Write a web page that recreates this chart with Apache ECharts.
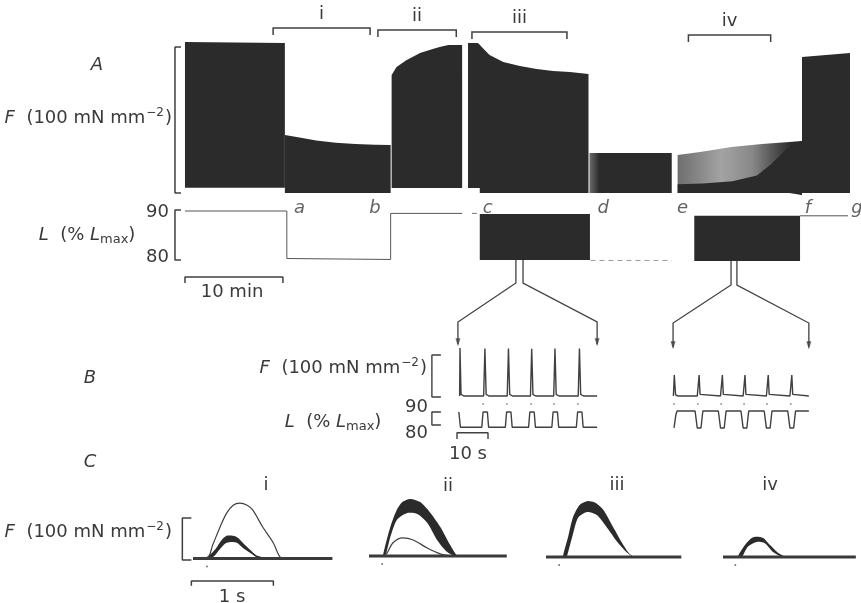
<!DOCTYPE html>
<html>
<head>
<meta charset="utf-8">
<script src="https://cdn.jsdelivr.net/npm/echarts@6/dist/echarts.min.js"></script>
<style>
  html, body { margin: 0; padding: 0; background: #fff; }
  #chart { width: 861px; height: 603px; }
</style>
</head>
<body>
<div id="chart"></div>
<script>
// ---- Panel A: force envelopes, [time (min), peak F, baseline F] (100 mN mm-2 = 100)
const forceCtrl = [[0.1, 103.4, 3.6], [10.3, 102.7, 3.6]];
const forceI = [[10.3, 39.7, 0], [11.5, 38.4, 0], [13.5, 36.0, 0], [15.5, 34.5, 0], [17.5, 33.5, 0], [19.5, 33.0, 0], [21.1, 32.9, 0]];
const forceII = [[21.2, 80.8, 3.4], [21.7, 86.3, 3.4], [22.7, 91.0, 3.4], [24.1, 95.9, 3.4], [25.4, 98.6, 3.4], [26.1, 100.0, 3.4], [27.0, 101.4, 3.4], [28.4, 101.4, 3.4]];
const forceIII = [[29.0, 102.7, 3.4], [30.0, 102.7, 3.4], [30.2, 101.5, 3.4], [30.2, 101.5, 0], [30.4, 100.0, 0], [31.2, 94.5, 0], [32.6, 89.7, 0], [34.3, 87.0, 0], [36.0, 84.9, 0], [37.7, 83.6, 0], [39.4, 82.9, 0], [41.3, 81.5, 0]];
const forceD = [[41.4, 27.4, 0], [49.8, 27.4, 0]];
const forceIV = [[50.4, 26.0, 0], [52.7, 28.0, 0], [55.9, 31.5, 0], [59.0, 33.6, 0], [61.8, 34.9, 0], [63.1, 35.6, -1.4]];
const forceIVdark = [[50.4, 6, 0], [53.0, 6.5, 0], [56.0, 8, 0], [58.5, 12, 0], [60.0, 20, 0], [61.5, 30, 0], [62.4, 34.5, 0], [63.1, 35.6, -1.4]];
const forceG = [[63.1, 93.2, 0], [68.0, 95.9, 0]];

// Panel A: length, [time (min), L (% Lmax)]
const lenTrace = [[0.1, 90], [10.5, 90], [10.5, 80.1], [21.1, 79.9], [21.1, 89.5], [28.4, 89.5]];
const lenStub = [[29.4, 89.5], [29.9, 89.5]];
const lenDash = [[41.5, 79.7], [49.8, 79.7]];
const lenTail = [[62.9, 89.0], [67.8, 89.0]];
const lenBlockC = [[30.2, 89.4, 79.8], [41.45, 89.4, 79.8]];
const lenBlockE = [[52.1, 89.0, 79.6], [62.9, 89.0, 79.6]];

const markerNames = ['a', 'b', 'c', 'd', 'e', 'f', 'g'];
const markerTimes = [11.8, 19.5, 31.0, 42.8, 50.9, 63.7, 68.7];

const periodNames = ['i', 'ii', 'iii', 'iv'];
const periodStart = [9.1, 19.8, 29.4, 51.5];
const periodEnd = [19.0, 27.8, 39.1, 59.9];
const periodLevel = [113, 111.6, 110.3, 108.2];

// ---- Panel B: [time (s), value]
const bForceC = [[0.85, 0], [0.97, 117], [1.3, 4], [2.2, 0], [8.6, 0], [9.0, 116], [9.4, 4], [10.3, 0], [16.2, 0], [16.6, 116], [17.0, 4], [17.9, 0], [23.7, 0], [24.1, 115], [24.5, 4], [25.4, 0], [31.2, 0], [31.6, 116], [32.0, 4], [32.9, 0], [39.1, 0], [39.5, 116], [39.9, 4], [40.8, 0], [45.2, 0]];
const bLenC = [[0.6, 90], [0.9, 90], [1.1, 79.1], [8.0, 79.1], [8.4, 90], [9.8, 90], [10.2, 79.1], [15.6, 79.1], [16.0, 90], [17.4, 90], [17.8, 79.1], [23.1, 79.1], [23.5, 90], [24.9, 90], [25.3, 79.1], [30.6, 79.1], [31.0, 90], [32.4, 90], [32.8, 79.1], [38.5, 79.1], [38.9, 90], [40.3, 90], [40.7, 79.1], [45.2, 79.1]];
const bForceE = [[69.8, 0], [70.1, 51], [70.5, 3], [71.3, 0], [77.5, 0], [77.8, 4], [78.1, 51], [78.4, 4], [78.9, 0], [85.0, 0], [85.3, 4], [85.6, 51], [85.9, 4], [86.4, 0], [92.3, 0], [92.6, 4], [92.9, 51], [93.2, 4], [93.7, 0], [99.8, 0], [100.1, 4], [100.4, 51], [100.7, 4], [101.2, 0], [107.4, 0], [107.7, 4], [108.0, 51], [108.3, 4], [108.8, 0], [113.5, 0]];
const bLenE = [[70.0, 78.6], [70.2, 79.5], [70.6, 88], [71.0, 90.7], [76.8, 90.7], [77.5, 78.6], [78.7, 78.6], [79.3, 90.7], [84.3, 90.7], [85.0, 78.6], [86.2, 78.6], [86.8, 90.7], [91.6, 90.7], [92.3, 78.6], [93.5, 78.6], [94.1, 90.7], [99.1, 90.7], [99.8, 78.6], [101.0, 78.6], [101.6, 90.7], [106.7, 90.7], [107.4, 78.6], [108.6, 78.6], [109.2, 90.7], [113.5, 90.7]];
const bStimTimes = [8.4, 16.1, 23.9, 31.3, 39.0, 70.0, 77.7, 85.2, 92.6, 100.0, 107.7];

// ---- Panel C: single twitches, [time (s), F]
const cUpper1 = [[0.17, 3.6], [0.23, 13], [0.29, 27], [0.35, 44], [0.41, 54], [0.49, 54], [0.55, 49], [0.61, 37], [0.70, 20], [0.77, 8], [0.84, 3.6]];
const cLower1 = [[0.17, 0], [0.20, 0], [0.26, 6], [0.32, 20], [0.39, 35], [0.46, 39], [0.54, 37], [0.61, 25], [0.70, 13], [0.77, 3.6], [0.84, 0]];
const cThin1 = [[0.0, 0], [0.17, 0], [0.24, 32], [0.33, 75], [0.41, 108], [0.49, 127], [0.57, 132], [0.66, 127], [0.73, 115], [0.85, 75], [0.98, 37], [1.06, 4], [1.13, 0]];
const cUpper2 = [[0.17, 0], [0.26, 69], [0.34, 110], [0.41, 129], [0.50, 136], [0.62, 129], [0.74, 105], [0.87, 69], [0.99, 26], [1.07, 2], [1.12, 0]];
const cLower2 = [[0.20, 0], [0.26, 45], [0.34, 86], [0.46, 102], [0.59, 100], [0.71, 79], [0.83, 38], [0.95, 10], [1.05, 0]];
const cThin2 = [[0.17, 0], [0.22, 7], [0.29, 31], [0.41, 43], [0.54, 38], [0.71, 19], [0.87, 5], [0.99, 0]];
const cUpper3 = [[0.21, 0], [0.21, 5], [0.27, 48], [0.33, 95], [0.41, 124], [0.50, 133], [0.60, 129], [0.70, 112], [0.82, 71], [0.93, 33], [1.02, 7], [1.08, 0]];
const cLower3 = [[0.24, 0], [0.26, 5], [0.32, 48], [0.39, 93], [0.50, 107], [0.62, 100], [0.74, 71], [0.87, 36], [0.99, 10], [1.06, 0]];
const cUpper4 = [[0.18, 0], [0.27, 29], [0.35, 45], [0.41, 48], [0.49, 45], [0.57, 29], [0.67, 10], [0.76, 0]];
const cLower4 = [[0.23, 0], [0.30, 24], [0.41, 36], [0.51, 33], [0.61, 12], [0.72, 0]];
const cTraceEnd = [1.7, 1.68, 1.65, 1.62];
const cStim = [0.17, 0.16, 0.16, 0.15];
const cNames = ['i', 'ii', 'iii', 'iv'];

// ---- scale bars and brackets (axis units of each panel)
const barForceA = [[-0.31, 100], [-0.92, 100], [-0.92, 0], [-0.31, 0]];
const barLenA = [[-0.31, 90.2], [-0.92, 90.2], [-0.92, 79.8], [-0.31, 79.8]];
const barTimeA = [[0.1, 75.0], [0.1, 76.25], [10.1, 76.25], [10.1, 75.0]];
const barForceB = [[-5.2, 100], [-8.1, 100], [-8.1, -2.4], [-5.2, -2.4]];
const barLenB = [[-5.2, 90], [-8.1, 90], [-8.1, 80.7], [-5.2, 80.7]];
const barTimeB = [[0, 70.7], [0, 75.2], [10, 75.2], [10, 70.7]];
const barForceC = [[-0.02, 96.4], [-0.13, 96.4], [-0.13, -3.6], [-0.02, -3.6]];
const barTimeC = [[-0.02, -65], [-0.02, -53.6], [0.98, -53.6], [0.98, -65]];

// connectors from A length blocks to B (B force-axis units), arrow tips
const arrowsC = [[[19.0, 331.7], [19.0, 275.6], [0.3, 180.5], [0.3, 126]], [[21.3, 331.7], [21.3, 275.6], [45.2, 180.5], [45.2, 126]]];
const arrowsE = [[[88.4, 329.3], [88.4, 270.7], [69.7, 178], [69.7, 119]], [[90.3, 329.3], [90.3, 270.7], [113.5, 178], [113.5, 119]]];
const arrowTips = [[0.3, 131], [45.2, 131], [69.7, 124], [113.5, 124]];

const ink = '#2b2b2b';
const lineInk = '#404040';
const textInk = '#3a3a3a';
const FONT = '"DejaVu Sans", sans-serif';

const chart = echarts.init(document.getElementById('chart'));

const grids = [
  { left: 174.2, top: 10.5, width: 675.8, height: 189.8 },
  { left: 174.2, top: 199, width: 675.8, height: 93.6 },
  { left: 429.1, top: 342.7, width: 384.4, height: 57.4 },
  { left: 429.1, top: 402.2, width: 384.4, height: 29.4 },
  { left: 176.6, top: 495.5, width: 155.8, height: 71.4 },
  { left: 369, top: 493, width: 139.4, height: 71.4 },
  { left: 546, top: 494, width: 139.4, height: 71.4 },
  { left: 723, top: 494, width: 139.4, height: 71.4 }
];
const xRanges = [[-1, 68], [-1, 68], [-9, 115], [-9, 115], [-0.2, 1.7], [0, 1.7], [0, 1.7], [0, 1.7]];
const yRanges = [[-5, 125], [73, 92.5], [-10, 130], [76, 97], [-20, 150], [-20, 150], [-20, 150], [-20, 150]];

function poly(g, pts, fill) {
  return {
    type: 'custom', xAxisIndex: g, yAxisIndex: g, clip: false, silent: true,
    data: [[pts[0][0], pts[0][1]]],
    renderItem: (p, api) => {
      const top = pts.map(q => api.coord([q[0], q[1]]));
      const bot = pts.slice().reverse().map(q => api.coord([q[0], q[2]]));
      return { type: 'polygon', shape: { points: top.concat(bot) }, style: { fill: fill } };
    }
  };
}

function band(g, upper, lower, fill) {
  return {
    type: 'custom', xAxisIndex: g, yAxisIndex: g, clip: false, silent: true,
    data: [[upper[0][0], upper[0][1]]],
    renderItem: (p, api) => {
      const pts = upper.map(q => api.coord(q)).concat(lower.slice().reverse().map(q => api.coord(q)));
      return { type: 'polygon', shape: { points: pts, smooth: 0.25 }, style: { fill: fill } };
    }
  };
}

function trace(g, pts, color, width, extra) {
  return Object.assign({
    type: 'line', xAxisIndex: g, yAxisIndex: g, data: pts, symbol: 'none',
    clip: false, silent: true, lineStyle: { color: color, width: width }
  }, extra || {});
}

function brackets(g) {
  return {
    type: 'custom', xAxisIndex: g, yAxisIndex: g, clip: false, silent: true,
    data: periodStart.map((s, i) => [s, periodLevel[i]]),
    renderItem: (p, api) => {
      const i = p.dataIndex;
      const a = api.coord([periodStart[i], periodLevel[i] - 4.8]);
      const b = api.coord([periodStart[i], periodLevel[i]]);
      const c = api.coord([periodEnd[i], periodLevel[i]]);
      const d = api.coord([periodEnd[i], periodLevel[i] - 4.8]);
      return {
        type: 'group', children: [
          { type: 'polyline', shape: { points: [a, b, c, d] }, style: { stroke: lineInk, lineWidth: 1.5, fill: null } },
          { type: 'text', x: (b[0] + c[0]) / 2, y: b[1] - 14,
            style: { text: periodNames[i], align: 'center', verticalAlign: 'middle', fontSize: 18, fontFamily: FONT, fill: textInk } }
        ]
      };
    }
  };
}

const fadeGrad = new echarts.graphic.LinearGradient(0, 0, 1, 0, [
  { offset: 0, color: '#6e6e6e' }, { offset: 0.35, color: '#a3a3a3' },
  { offset: 0.6, color: '#888' }, { offset: 0.8, color: '#4a4a4a' }, { offset: 0.92, color: ink }
]);
const edgeGrad = new echarts.graphic.LinearGradient(0, 0, 1, 0, [
  { offset: 0, color: '#6c6c6c' }, { offset: 0.12, color: ink }, { offset: 1, color: ink }
]);

const series = [
  poly(0, forceCtrl, ink), poly(0, forceI, ink), poly(0, forceII, ink), poly(0, forceIII, ink),
  poly(0, forceD, edgeGrad), poly(0, forceIV, fadeGrad), poly(0, forceIVdark, ink), poly(0, forceG, ink),
  trace(0, barForceA, lineInk, 1.5),
  brackets(0),
  trace(1, lenTrace, '#555', 1), trace(1, lenStub, '#777', 1),
  trace(1, lenDash, '#9a9a9a', 1, { lineStyle: { color: '#9a9a9a', width: 1, type: [5, 4] } }),
  trace(1, lenTail, '#555', 1),
  poly(1, lenBlockC, ink), poly(1, lenBlockE, ink),
  trace(1, barLenA, lineInk, 1.5), trace(1, barTimeA, lineInk, 1.5),
  {
    type: 'scatter', xAxisIndex: 1, yAxisIndex: 1, symbolSize: 0, clip: false, silent: true,
    data: markerTimes.map((t, i) => ({ value: [t, 90.6], name: markerNames[i] })),
    label: { show: true, position: 'inside', formatter: '{b}', fontStyle: 'italic', fontSize: 18, fontFamily: FONT, color: textInk }
  },
  trace(2, bForceC, lineInk, 1.4), trace(2, bForceE, lineInk, 1.4),
  trace(2, barForceB, lineInk, 1.4),
  {
    type: 'lines', coordinateSystem: 'cartesian2d', xAxisIndex: 2, yAxisIndex: 2, polyline: true,
    clip: false, silent: true,
    lineStyle: { color: lineInk, width: 1.3, opacity: 1 },
    data: arrowsC.concat(arrowsE).map(c => ({ coords: c }))
  },
  {
    type: 'scatter', xAxisIndex: 2, yAxisIndex: 2, clip: false, silent: true,
    symbol: 'triangle', symbolRotate: 180, symbolSize: [5, 8],
    itemStyle: { color: lineInk }, data: arrowTips
  },
  trace(3, bLenC, lineInk, 1.4), trace(3, bLenE, lineInk, 1.4),
  trace(3, barLenB, lineInk, 1.4), trace(3, barTimeB, lineInk, 1.4),
  {
    type: 'scatter', xAxisIndex: 3, yAxisIndex: 3, symbolSize: 1.8, clip: false, silent: true,
    itemStyle: { color: '#777' }, data: bStimTimes.map(t => [t, 95.7])
  },
  trace(4, barForceC, lineInk, 1.5), trace(4, barTimeC, lineInk, 1.5)
];

const cUpper = [cUpper1, cUpper2, cUpper3, cUpper4];
const cLower = [cLower1, cLower2, cLower3, cLower4];
for (let k = 0; k < 4; k++) {
  const g = 4 + k;
  series.push(trace(g, [[0, 0], [cTraceEnd[k], 0]], '#3a3a3a', 3));
  series.push(band(g, cUpper[k], cLower[k], ink));
  series.push({
    type: 'scatter', xAxisIndex: g, yAxisIndex: g, symbolSize: 2, clip: false, silent: true,
    itemStyle: { color: '#555' }, data: [[cStim[k], -19]]
  });
}
series.push(trace(4, cThin1, lineInk, 1.2, { smooth: 0.3 }));
series.push(trace(5, cThin2, lineInk, 1.2, { smooth: 0.3 }));

const rich = {
  i: { fontStyle: 'italic', fontSize: 18, fontFamily: FONT, fill: textInk },
  s: { fontSize: 12, fontFamily: FONT, fill: textInk, padding: [0, 1, 10, 1] },
  m: { fontSize: 13, fontFamily: FONT, fill: textInk, padding: [10, 0, 0, 0] }
};
const fLabel = '{i|F}  (100 mN mm{s|−2})';
const lLabel = '{i|L}  (% {i|L}{m|max})';

function txt(x, y, text, align, italic) {
  return {
    type: 'text', x: x, y: y, silent: true,
    style: {
      text: text, align: align || 'center', verticalAlign: 'middle', rich: rich,
      fontSize: 18, fontFamily: FONT, fontStyle: italic ? 'italic' : 'normal', fill: textInk
    }
  };
}

const graphic = [
  txt(97, 65, 'A', 'center', true),
  txt(172, 118, fLabel, 'right'),
  txt(169, 212, '90', 'right'), txt(169, 257, '80', 'right'),
  txt(87, 235, lLabel, 'center'),
  txt(232, 292, '10 min'),
  txt(90, 378, 'B', 'center', true),
  txt(427, 368, fLabel, 'right'),
  txt(428, 407, '90', 'right'), txt(428, 433, '80', 'right'),
  txt(333, 422, lLabel, 'center'),
  txt(468, 454, '10 s'),
  txt(90, 462, 'C', 'center', true),
  txt(172, 532, fLabel, 'right'),
  txt(232, 597, '1 s'),
  txt(266, 485, cNames[0]), txt(448, 486, cNames[1]), txt(617, 485, cNames[2]), txt(770, 485, cNames[3])
];

const option = {
  backgroundColor: '#ffffff',
  animation: false,
  grid: grids.map(g => Object.assign({ outerBoundsMode: 'none', containLabel: false }, g)),
  xAxis: xRanges.map((r, i) => ({ type: 'value', gridIndex: i, min: r[0], max: r[1], show: false })),
  yAxis: yRanges.map((r, i) => ({ type: 'value', gridIndex: i, min: r[0], max: r[1], show: false })),
  series: series,
  graphic: graphic
};

chart.setOption(option);
window.addEventListener('resize', () => {
  chart.resize();
});
</script>
</body>
</html>
